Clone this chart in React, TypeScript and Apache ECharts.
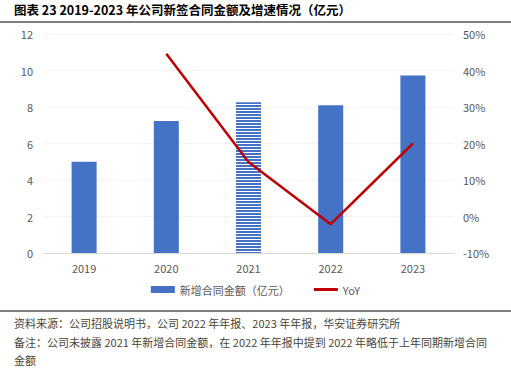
import React, { useEffect, useRef } from "react";
import * as echarts from "echarts";

const categories = ["2019", "2020", "2021", "2022", "2023"];
const contractValues = [5.0, 7.23, 8.26, 8.1, 9.72];
const yoyValues: (number | null)[] = [null, 44.6, 14.9, -2.1, 20.0];
const leftTicks = { min: 0, max: 12, interval: 2 };
const rightTicks = { min: -10, max: 50, interval: 10 };
const hatchedIndex = 2;

const titleText = "图表 23 2019-2023 年公司新签合同金额及增速情况（亿元）";
const barName = "新增合同金额（亿元）";
const lineName = "YoY";
const note1 = "资料来源：公司招股说明书，公司 2022 年年报、2023 年年报，华安证券研究所";
const note2 = "备注：公司未披露 2021 年新增合同金额，在 2022 年年报中提到 2022 年略低于上年同期新增合同";
const note3 = "金额";

const BLUE = "#4472c4";
const RED = "#c00000";
const FONT = "'Noto Sans CJK SC', 'Noto Sans', sans-serif";

export default function App() {
  const ref = useRef<HTMLDivElement>(null);
  useEffect(() => {
    if (!ref.current) return;
    const chart = echarts.init(ref.current, undefined, { renderer: "svg" });
    const barData = contractValues.map((v, i) =>
      i === hatchedIndex
        ? {
            value: v,
            itemStyle: {
              color: "#ffffff",
              decal: {
                symbol: "rect",
                symbolSize: 1,
                dashArrayX: [1, 0],
                dashArrayY: [2, 1],
                rotation: 0,
                color: BLUE,
                backgroundColor: "#ffffff",
              },
            },
          }
        : v
    );
    chart.setOption({
      animation: false,
      textStyle: { fontFamily: FONT },
      grid: { left: 43, right: 57, top: 34, bottom: 119, containLabel: false },
      legend: {
        bottom: 72,
        left: "center",
        itemWidth: 24,
        itemHeight: 7,
        itemGap: 24,
        textStyle: { fontSize: 11, color: "#595959", fontFamily: FONT },
        data: [
          { name: barName, icon: "rect" },
          { name: lineName, icon: "path://M0,0h24v3h-24z", itemStyle: { color: RED } },
        ],
      },
      xAxis: {
        type: "category",
        data: categories,
        axisLine: { lineStyle: { color: "#d9d9d9" } },
        axisTick: { show: false },
        axisLabel: { color: "#595959", fontSize: 11, margin: 9 },
      },
      yAxis: [
        {
          type: "value",
          min: leftTicks.min,
          max: leftTicks.max,
          interval: leftTicks.interval,
          axisLabel: { color: "#595959", fontSize: 11, margin: 10 },
          splitLine: { lineStyle: { color: "#f4f4f4" } },
          axisLine: { show: false },
        },
        {
          type: "value",
          min: rightTicks.min,
          max: rightTicks.max,
          interval: rightTicks.interval,
          axisLabel: { color: "#595959", fontSize: 11, margin: 9, formatter: "{value}%" },
          splitLine: { show: false },
          axisLine: { show: false },
        },
      ],
      series: [
        {
          name: barName,
          type: "bar",
          data: barData,
          barWidth: 25,
          itemStyle: { color: BLUE },
        },
        {
          name: lineName,
          type: "line",
          yAxisIndex: 1,
          data: yoyValues,
          symbol: "none",
          lineStyle: { color: RED, width: 2.5 },
          itemStyle: { color: RED },
        },
      ],
      graphic: [
        {
          type: "text",
          left: 14,
          top: 3,
          style: { text: titleText, font: `bold 12.5px ${FONT}`, fill: "#000" },
        },
        {
          type: "line",
          shape: { x1: 0, y1: 22, x2: 511, y2: 22 },
          style: { stroke: "#000", lineWidth: 1.2 },
        },
        {
          type: "line",
          shape: { x1: 0, y1: 311, x2: 511, y2: 311 },
          style: { stroke: "#000", lineWidth: 1.2 },
        },
        {
          type: "text",
          left: 14,
          top: 317,
          style: { text: note1, font: `11px ${FONT}`, fill: "#4a4538" },
        },
        {
          type: "text",
          left: 14,
          top: 336,
          style: { text: note2, font: `11px ${FONT}`, fill: "#4a4538" },
        },
        {
          type: "text",
          left: 14,
          top: 354,
          style: { text: note3, font: `11px ${FONT}`, fill: "#4a4538" },
        },
      ],
    });
    return () => chart.dispose();
  }, []);
  return (
    <div
      ref={ref}
      style={{ position: "fixed", left: 0, top: 0, width: 511, height: 372, background: "#fff" }}
    />
  );
}
